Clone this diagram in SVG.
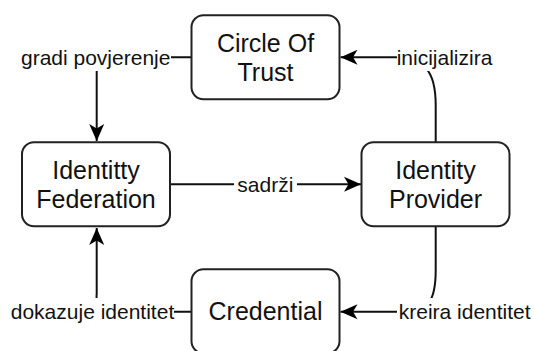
<svg xmlns="http://www.w3.org/2000/svg" width="534" height="351" viewBox="0 0 534 351">
  <defs>
    <marker id="arrow" markerUnits="userSpaceOnUse" markerWidth="18" markerHeight="16" refX="17" refY="8" orient="auto" overflow="visible">
      <path d="M0,0.5 L17,8 L0,15.5 L4.5,8 Z" fill="#000"/>
    </marker>
  </defs>
  <style>
    .node rect { fill: #fff; stroke: #222; stroke-width: 2; }
    .node text { font-family: "Liberation Sans", Arial, sans-serif; font-size: 25px; fill: #111; text-anchor: middle; }
    .edge { fill: none; stroke: #111; stroke-width: 2; }
    .lbl-bg { fill: #fff; stroke: none; }
    .lbl { font-family: "Liberation Sans", Arial, sans-serif; font-size: 21px; fill: #111; text-anchor: middle; }
  </style>
  <rect width="534" height="351" fill="#fff"/>

  <g id="connectors">
    <path class="edge" d="M191.5,57.3 H112 Q96.7,57.3 96.7,72 V141" marker-end="url(#arrow)"/>
    <path class="edge" d="M435.7,142 V105 C435.7,72 425,57.3 395,57.3 H340.5" marker-end="url(#arrow)"/>
    <path class="edge" d="M171,184.3 H361" marker-end="url(#arrow)"/>
    <path class="edge" d="M435.7,227 V270 C435.7,300 430,311.7 400,311.7 H340.5" marker-end="url(#arrow)"/>
    <path class="edge" d="M191.5,311.7 H112 Q95,311.7 96.7,294 V228" marker-end="url(#arrow)"/>

    <rect class="lbl-bg" x="19" y="45" width="152" height="26"/>
    <text class="lbl" x="95.7" y="65">gradi povjerenje</text>

    <rect class="lbl-bg" x="397" y="45" width="96" height="26"/>
    <text class="lbl" x="444.5" y="65">inicijalizira</text>

    <rect class="lbl-bg" x="234" y="172" width="63" height="25"/>
    <text class="lbl" x="265.3" y="192">sadrži</text>

    <rect class="lbl-bg" x="397" y="298" width="135" height="26"/>
    <text class="lbl" x="464.7" y="319">kreira identitet</text>

    <rect class="lbl-bg" x="10" y="298" width="164" height="26"/>
    <text class="lbl" x="92.5" y="319">dokazuje identitet</text>
  </g>

  <g id="circle-of-trust" class="node">
    <rect x="191.5" y="15.3" width="148" height="84" rx="12"/>
    <text x="265.5" y="51.5">Circle Of</text>
    <text x="265.5" y="80.5">Trust</text>
  </g>

  <g id="identity-federation" class="node">
    <rect x="22" y="142.3" width="148" height="84" rx="12"/>
    <text x="96" y="178.5">Identitty</text>
    <text x="96" y="207.5">Federation</text>
  </g>

  <g id="identity-provider" class="node">
    <rect x="361.5" y="142.3" width="148" height="84" rx="12"/>
    <text x="435.5" y="178.5">Identity</text>
    <text x="435.5" y="207.5">Provider</text>
  </g>

  <g id="credential" class="node">
    <rect x="191.5" y="269.3" width="148" height="84" rx="12"/>
    <text x="265.5" y="320">Credential</text>
  </g>
</svg>
